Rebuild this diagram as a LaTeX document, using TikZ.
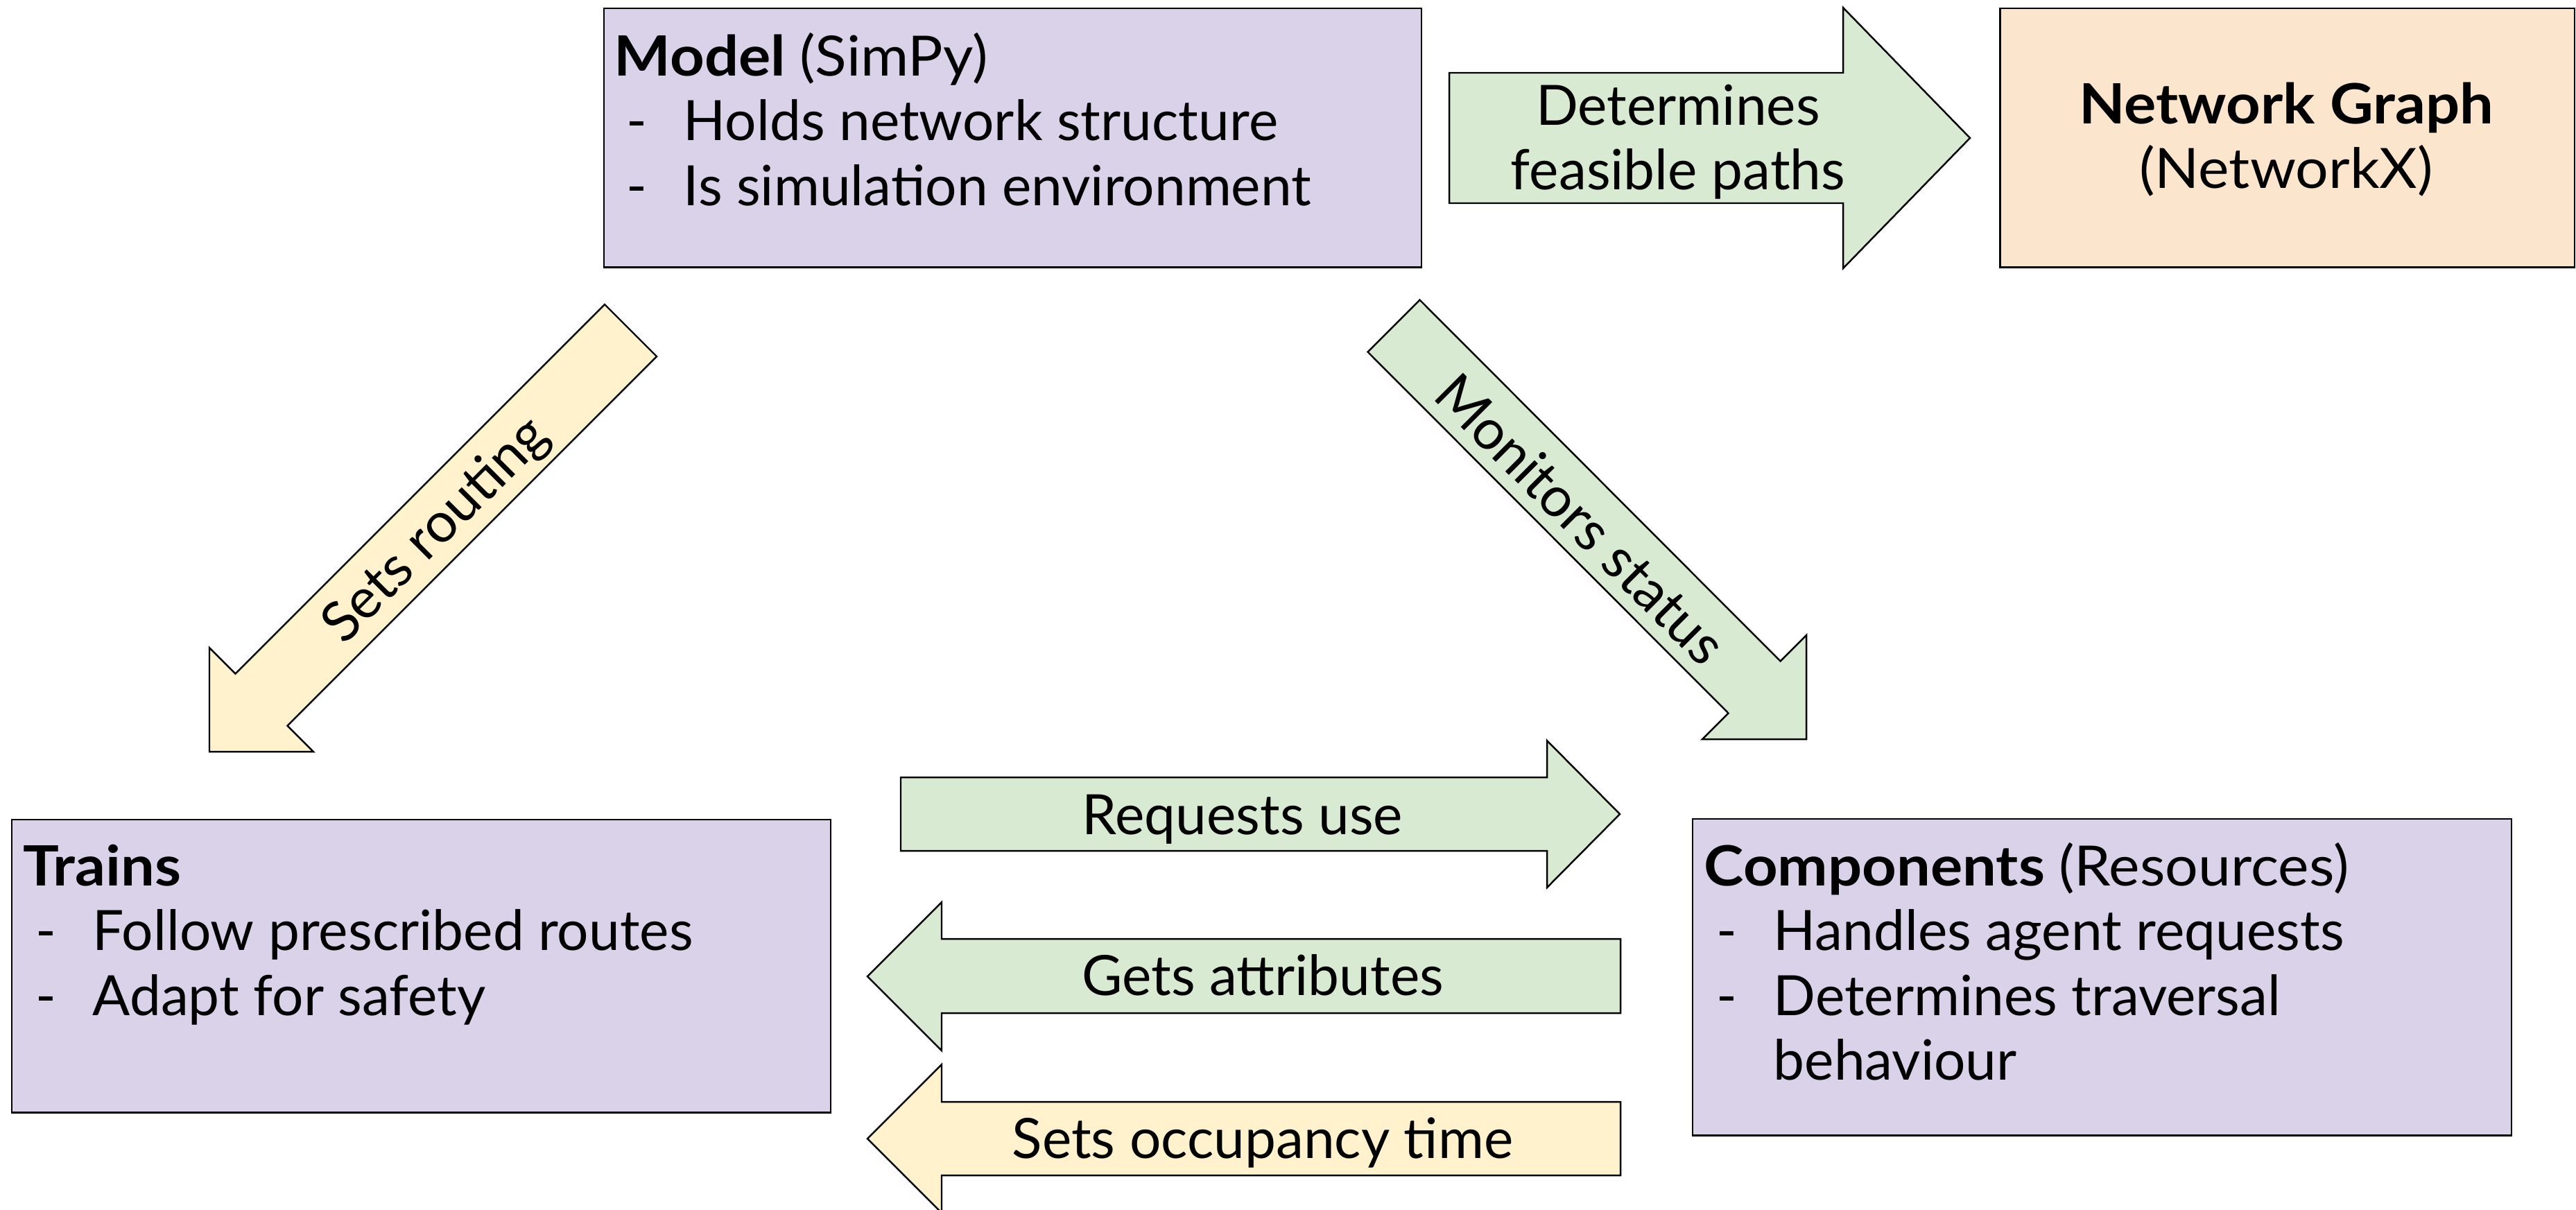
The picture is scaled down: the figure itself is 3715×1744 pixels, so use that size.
\documentclass[tikz,border=0pt]{standalone}
\usepackage{fontspec}
\setmainfont{Lato}
\definecolor{lilac}{HTML}{D9D2E9}
\definecolor{sage}{HTML}{D9EAD3}
\definecolor{cream}{HTML}{FFF2CC}
\definecolor{peach}{HTML}{FCE5CD}
% dash bullet with hanging indent for the item lists
\newcommand{\itemdash}{\makebox[1.00cm][l]{\hspace{0.18cm}-}}
% slightly wider bold headings
\newcommand{\heading}[1]{\scalebox{1.08}[1]{\textbf{#1}}}
\newcommand{\wide}[1]{\scalebox{1.05}[1]{#1}}
\tikzset{
  box/.style={draw=black, line width=0.7pt, rectangle, inner sep=0pt, anchor=north west},
  flow/.style={draw=black, line width=0.7pt, line join=miter},
  txt/.style={inner sep=0pt, font=\fontsize{22.8pt}{26.6pt}\selectfont},
}
\begin{document}
\begin{tikzpicture}[x=0.01cm,y=-0.01cm]
\useasboundingbox (0,0) rectangle (3715,1744);
\clip (0,0) rectangle (3715,1744);

% component boxes
\node[box, fill=lilac, minimum width=11.78cm, minimum height=3.73cm] (model) at (870,11) {};
\node[box, fill=peach, minimum width=8.28cm, minimum height=3.73cm] (graph) at (2883,11) {};
\node[box, fill=lilac, minimum width=11.80cm, minimum height=4.22cm] (trains) at (16,1181) {};
\node[box, fill=lilac, minimum width=11.80cm, minimum height=4.56cm] (comps) at (2440,1180) {};

% block arrows
\draw[flow, fill=sage] (2090,105) -- (2658,105) -- (2658,11) -- (2841,199) -- (2658,387) -- (2658,293) -- (2090,293) -- cycle;
\draw[flow, fill=cream] (872,439) -- (947,514) -- (414.5,1046.5) -- (452,1084) -- (302,1084) -- (302,934) -- (339.5,971.5) -- cycle;
\draw[flow, fill=sage] (2047.5,432.5) -- (2567.5,953.5) -- (2605,916) -- (2605,1066) -- (2455,1066) -- (2492.5,1028.5) -- (1972.5,507.5) -- cycle;
\draw[flow, fill=sage] (1299,1121) -- (2231,1121) -- (2231,1068) -- (2336,1174) -- (2231,1280) -- (2231,1227) -- (1299,1227) -- cycle;
\draw[flow, fill=sage] (2337,1354) -- (1358,1354) -- (1358,1301) -- (1251,1408) -- (1358,1515) -- (1358,1461) -- (2337,1461) -- cycle;
\draw[flow, fill=cream] (2337,1589) -- (1358,1589) -- (1358,1535) -- (1251,1642) -- (1358,1749) -- (1358,1695) -- (2337,1695) -- cycle;

% box texts
\node[txt, anchor=base west] (modeltext) at (885,109) {\begin{tabular}[t]{@{}l@{}}\heading{Model} \wide{(SimPy)}\\ \itemdash Holds network structure\\ \itemdash Is simulation environment\end{tabular}};
\node[txt, anchor=base] (graphtext) at (3297,178) {\begin{tabular}[t]{@{}c@{}}\heading{Network Graph}\\\wide{(NetworkX)}\end{tabular}};
\node[txt, anchor=base west] (trainstext) at (33,1277) {\begin{tabular}[t]{@{}l@{}}\heading{Trains}\\ \itemdash Follow prescribed routes\\ \itemdash Adapt for safety\end{tabular}};
\node[txt, anchor=base west] (compstext) at (2457,1277) {\begin{tabular}[t]{@{}l@{}}\heading{Components} \wide{(Resources)}\\ \itemdash Handles agent requests\\ \itemdash Determines traversal\\ \hspace{1.00cm}behaviour\end{tabular}};

% arrow labels
\node[txt, anchor=base] (feasible) at (2420,180) {\begin{tabular}[t]{@{}c@{}}Determines\\feasible paths\end{tabular}};
\node[txt, rotate=45] (routing) at (630,766) {Sets routing};
\node[txt, rotate=-45] (monitor) at (2280,748) {Monitors status};
\node[txt, anchor=base] (request) at (1792,1203) {Requests use};
\node[txt, anchor=base] (getattr) at (1821,1435) {Gets attributes};
\node[txt, anchor=base] (occupy) at (1821,1670) {Sets occupancy time};
\end{tikzpicture}
\end{document}
